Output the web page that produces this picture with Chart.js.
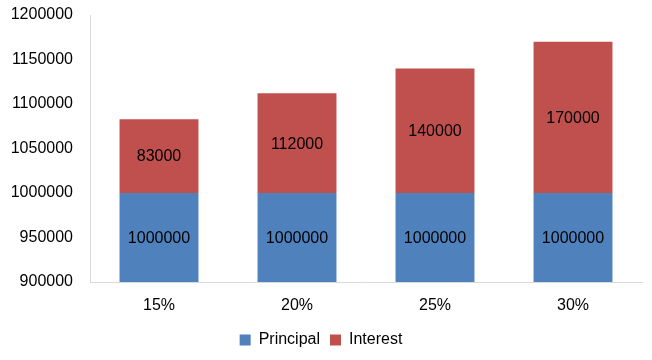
<!DOCTYPE html>
<html>
<head>
<meta charset="utf-8">
<script src="https://cdn.jsdelivr.net/npm/chart.js@4/dist/chart.umd.min.js"></script>
<style>
html,body{margin:0;padding:0;background:#fff;}
#wrap{width:652px;height:360px;}
</style>
</head>
<body>
<div id="wrap"><canvas id="c" width="652" height="360"></canvas></div>
<script>
const categories = ['15%', '20%', '25%', '30%'];
const principal = [1000000, 1000000, 1000000, 1000000];
const interest = [83000, 112000, 140000, 170000];
const yTicks = [900000, 950000, 1000000, 1050000, 1100000, 1150000, 1200000];

const FONT = "'Liberation Sans', Arial, sans-serif";

const labelPlugin = {
  id: 'barLabels',
  afterDatasetsDraw(chart) {
    const ctx = chart.ctx;
    const area = chart.chartArea;
    ctx.save();
    ctx.font = '16px ' + FONT;
    ctx.fillStyle = '#000';
    ctx.textAlign = 'center';
    ctx.textBaseline = 'middle';
    chart.data.datasets.forEach((ds, di) => {
      const meta = chart.getDatasetMeta(di);
      meta.data.forEach((bar, i) => {
        const top = Math.max(Math.min(bar.y, bar.base), area.top);
        const bot = Math.min(Math.max(bar.y, bar.base), area.bottom);
        ctx.fillText(String(ds.data[i]), bar.x, (top + bot) / 2 + 1);
      });
    });
    ctx.restore();
  }
};

new Chart(document.getElementById('c'), {
  type: 'bar',
  data: {
    labels: categories,
    datasets: [
      { label: 'Principal', data: principal, backgroundColor: '#4F81BD', borderWidth: 0 },
      { label: 'Interest', data: interest, backgroundColor: '#C0504D', borderWidth: 0 }
    ]
  },
  options: {
    responsive: false,
    animation: false,
    devicePixelRatio: 1,
    layout: { padding: { left: 0, right: 10, top: 15, bottom: 2 } },
    datasets: { bar: { categoryPercentage: 1, barPercentage: 0.572 } },
    scales: {
      x: {
        stacked: true,
        afterFit(scale) { scale.height = 40; scale.paddingLeft = 0; scale.paddingRight = 0; },
        grid: { drawOnChartArea: false, drawTicks: false },
        border: { color: '#D9D9D9', width: 1 },
        ticks: { color: '#000', font: { family: FONT, size: 16 }, padding: 14 }
      },
      y: {
        stacked: true,
        min: 900000,
        max: 1200000,
        afterBuildTicks(scale) { scale.ticks = yTicks.map(v => ({ value: v })); },
        afterFit(scale) { scale.width = 90; scale.paddingTop = 0; scale.paddingBottom = 0; },
        grid: { drawOnChartArea: false, drawTicks: false },
        border: { color: '#D9D9D9', width: 1 },
        ticks: { color: '#000', font: { family: FONT, size: 16 }, padding: 17,
                 callback: (v) => String(v) }
      }
    },
    plugins: {
      legend: {
        position: 'bottom',
        labels: {
          color: '#000',
          font: { family: FONT, size: 16 },
          boxWidth: 11,
          boxHeight: 11,
          padding: 10
        }
      },
      tooltip: { enabled: false }
    }
  },
  plugins: [labelPlugin]
});
</script>
</body>
</html>
